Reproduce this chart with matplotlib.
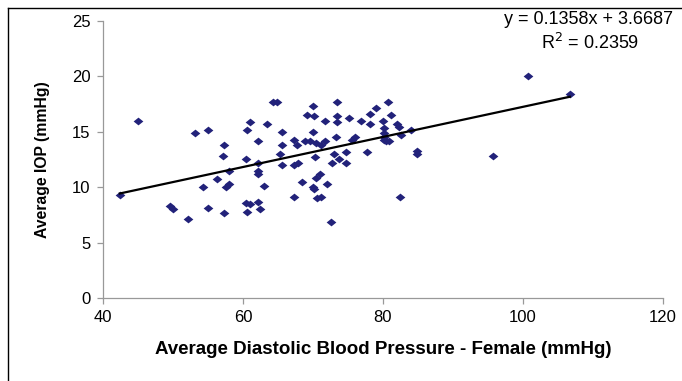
import numpy as np
import matplotlib.pyplot as plt
from matplotlib.lines import Line2D

# data
dbp = [42.4, 45.0, 49.6, 50.0, 52.1, 53.1, 54.3, 55.0, 55.0, 56.3,
       57.3, 57.1, 57.3, 57.6, 58.0, 58.0, 60.4, 60.6, 60.4, 60.6,
       61.0, 61.0, 62.1, 62.1, 62.1, 62.1, 62.2, 62.4, 63.0, 63.4,
       64.3, 64.9, 65.3, 65.6, 65.6, 65.6, 67.3, 67.3, 67.3, 67.7,
       67.8, 68.4, 68.8, 69.2, 69.6, 70.0, 70.0, 70.1, 70.0, 70.1,
       70.3, 70.4, 70.5, 70.6, 70.95, 71.1, 71.1, 71.7, 71.7, 72.0,
       72.6, 72.75, 73.0, 73.3, 73.4, 73.5, 73.5, 73.7, 74.7, 74.7,
       75.2, 75.6, 76.0, 76.9, 77.7, 78.1, 78.2, 79.0, 80.0, 80.1,
       80.2, 80.2, 80.2, 80.5, 80.7, 80.8, 81.1, 82.0, 82.3, 82.4,
       82.6, 84.0, 84.9, 84.9, 95.7, 100.7, 106.7]
iop = [9.33, 15.97, 8.33, 8.06, 7.16, 14.9, 10.0, 15.2, 8.15, 10.7,
       13.8, 12.8, 7.64, 10.0, 11.5, 10.3, 12.5, 15.2, 8.6, 7.8,
       15.9, 8.45, 14.2, 12.2, 11.5, 11.2, 8.66, 8.0, 10.1, 15.7,
       17.66, 17.66, 13.0, 15.0, 13.8, 12.0, 14.3, 12.0, 9.1, 13.8,
       12.2, 10.5, 14.2, 16.5, 14.2, 17.36, 15.0, 16.4, 10.0, 9.8,
       12.7, 10.8, 14.0, 9.06, 11.2, 9.1, 13.8, 16.0, 14.2, 10.3,
       6.86, 12.2, 13.0, 14.5, 16.4, 17.66, 15.9, 12.5, 13.2, 12.2,
       16.2, 14.3, 14.5, 16.0, 13.2, 16.6, 15.7, 17.15, 16.0, 15.3,
       14.9, 14.5, 14.3, 14.2, 17.66, 14.2, 16.5, 15.7, 15.4, 9.1,
       14.7, 15.2, 13.3, 13.0, 12.8, 20.0, 18.44]
slope = 0.1358
intercept = 3.6687
r2 = 0.2359

plt.rcParams['font.family'] = ['Liberation Sans', 'DejaVu Sans']

fig = plt.figure(figsize=(6.82, 3.81), dpi=100)
ax = fig.add_axes([0.151, 0.218, 0.821, 0.727])

# wide diamond marker
diamond = [(-1.25, 0), (0, 1), (1.25, 0), (0, -1), (-1.25, 0)]
ax.plot(dbp, iop, linestyle='none', marker=diamond, markersize=7,
        color='#22227a', markeredgewidth=0)

xs = np.array([min(dbp), max(dbp)])
ax.plot(xs, slope * xs + intercept, color='black', linewidth=1.6)

ax.set_xlim(40, 120)
ax.set_ylim(0, 25)
ax.set_xticks([40, 60, 80, 100, 120])
ax.set_yticks([0, 5, 10, 15, 20, 25])
for s in ['top', 'right']:
    ax.spines[s].set_visible(False)
for s in ['left', 'bottom']:
    ax.spines[s].set_color('#999999')
    ax.spines[s].set_linewidth(0.9)
ax.tick_params(direction='out', length=4, width=0.9, color='#999999',
               labelsize=12, pad=5)

ax.set_xlabel('Average Diastolic Blood Pressure - Female (mmHg)',
              fontsize=13.5, fontweight='bold', labelpad=11)
ax.set_ylabel('Average IOP (mmHg)', fontsize=11.3, fontweight='bold',
              labelpad=16)

fig.text(588 / 682, 1 - 20 / 381, 'y = %.4fx + %.4f' % (slope, intercept),
         ha='center', va='center', fontsize=13)
fig.text(590 / 682, 1 - 43 / 381, 'R$^2$ = %.4f' % r2,
         ha='center', va='center', fontsize=13)

# outer chart border (only top and left visible in the crop)
fig.add_artist(Line2D([8 / 682, 8 / 682], [0, 1 - 8 / 381],
                      transform=fig.transFigure, color='black', linewidth=1))
fig.add_artist(Line2D([8 / 682, 1], [1 - 8 / 381, 1 - 8 / 381],
                      transform=fig.transFigure, color='black', linewidth=1))

fig.savefig('out.png', dpi=100)
